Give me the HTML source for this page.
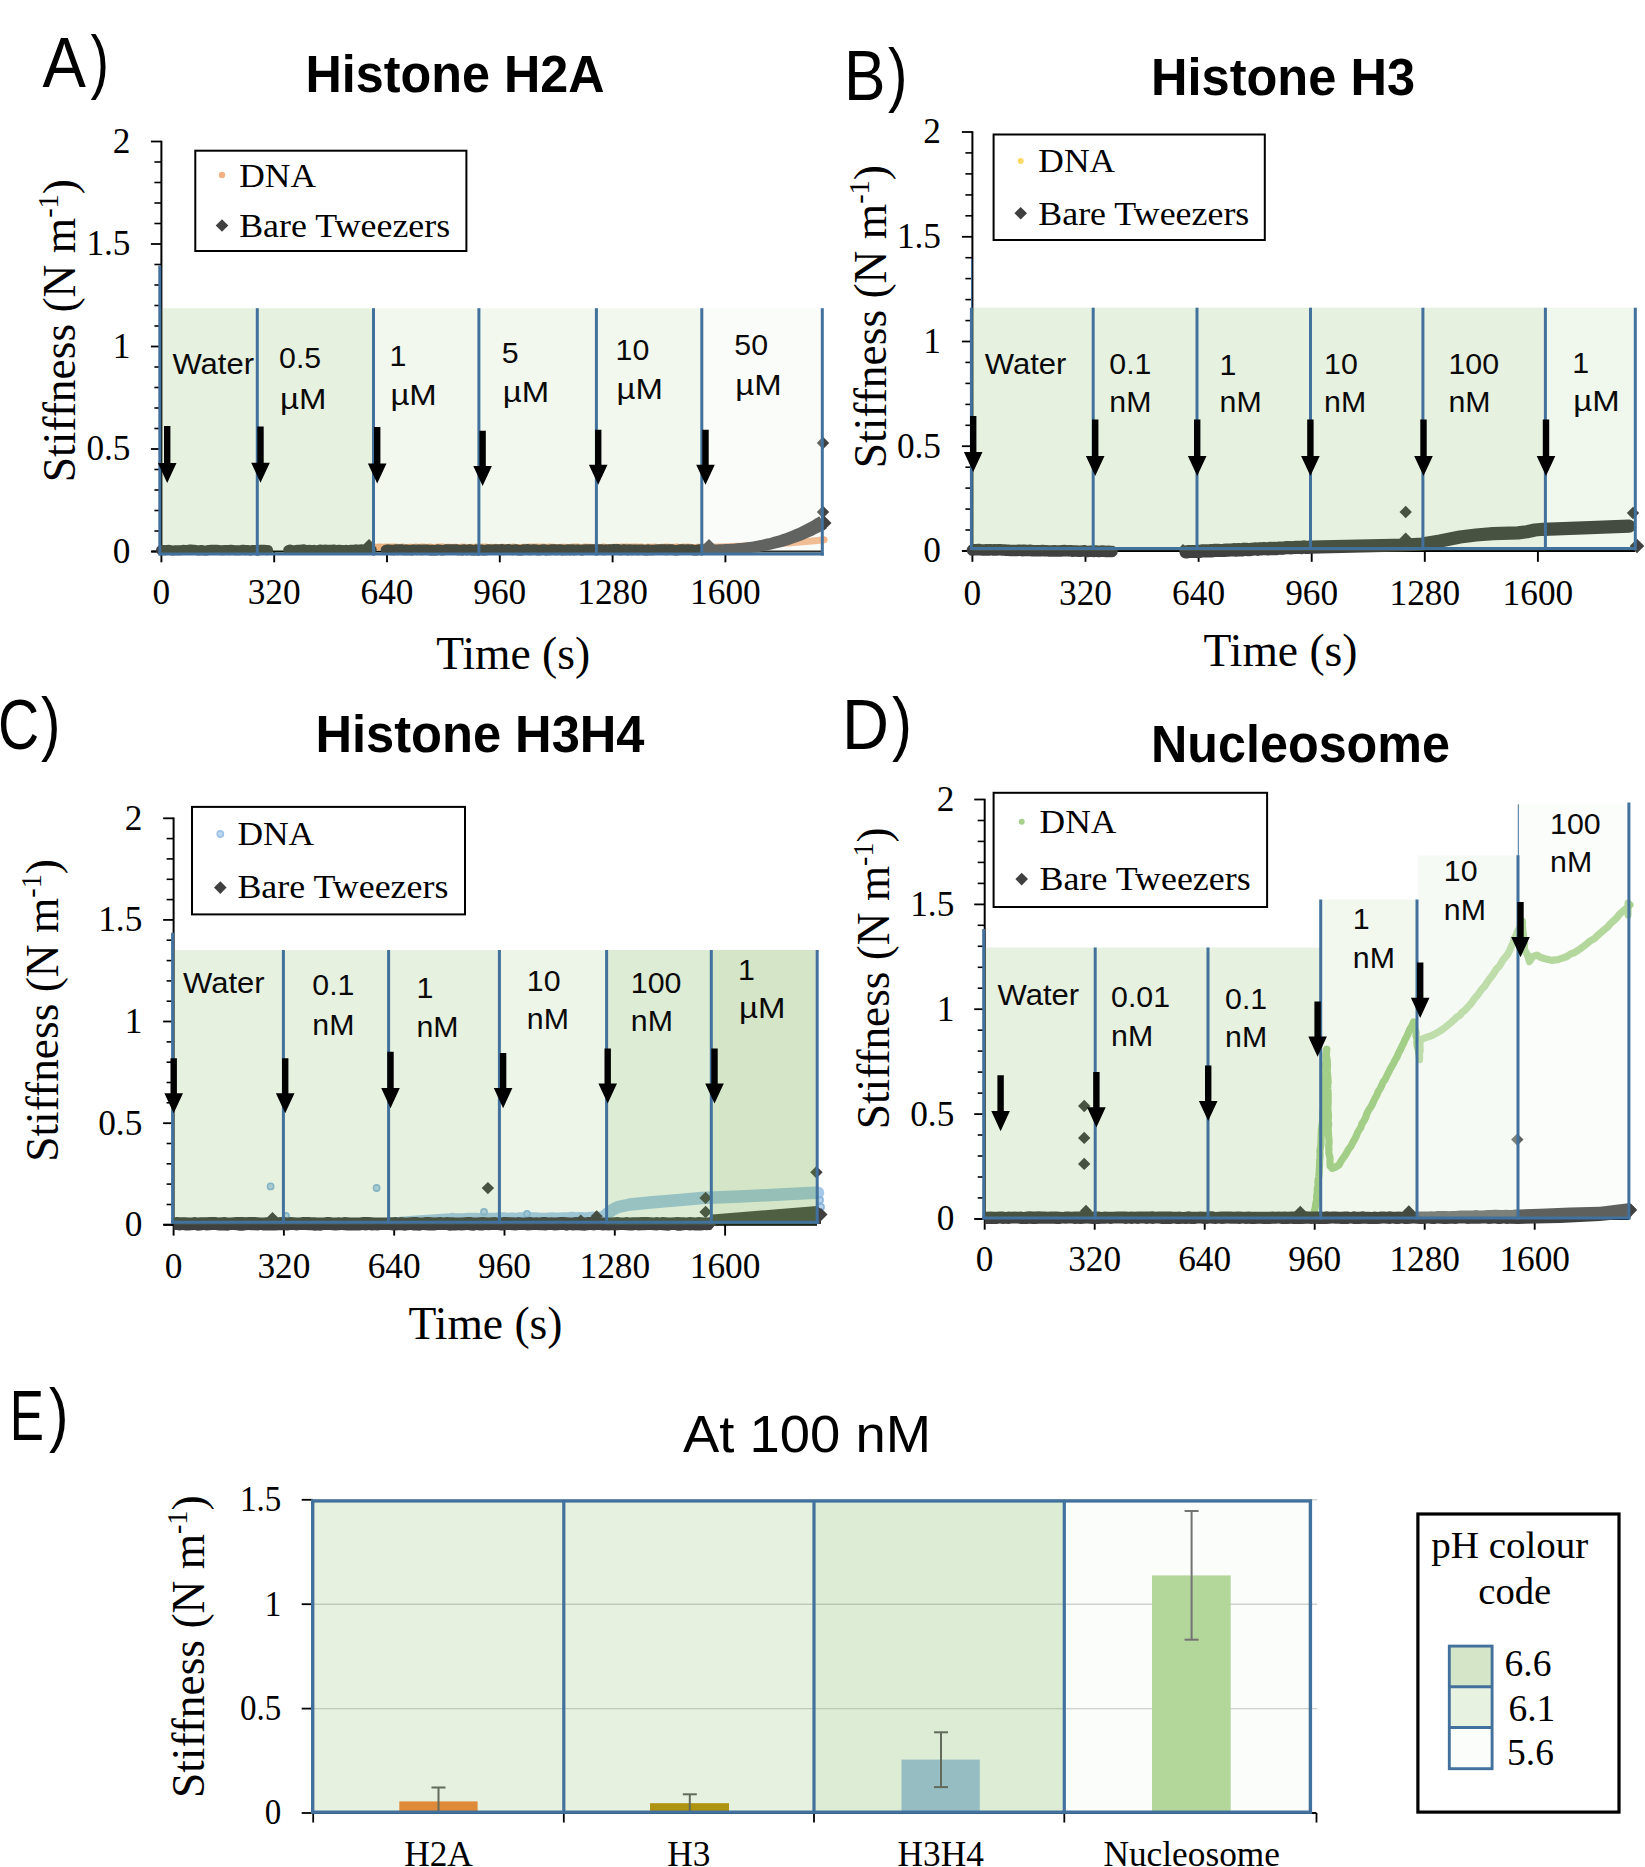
<!DOCTYPE html>
<html lang="en">
<head>
<meta charset="utf-8">
<title>Stiffness of DNA bundles with histones and nucleosomes</title>
<style>
html,body{margin:0;padding:0;background:#fff;}
body{width:1645px;height:1867px;overflow:hidden;}
svg{display:block;}
.se{font-family:'Liberation Serif', 'DejaVu Serif', serif;}
.sa{font-family:'Liberation Sans', 'DejaVu Sans', sans-serif;}
</style>
</head>
<body>
<svg width="1645" height="1867" viewBox="0 0 1645 1867">
<rect width="1645" height="1867" fill="#fff"/>
<text class="sa" y="87" font-size="70"><tspan x="42.6" textLength="43.4" lengthAdjust="spacingAndGlyphs">A</tspan><tspan x="90.5" dy="-2.2" textLength="18.5" lengthAdjust="spacingAndGlyphs">)</tspan></text>
<text class="sa" y="100.1" font-size="70"><tspan x="843.9" textLength="41.5" lengthAdjust="spacingAndGlyphs">B</tspan><tspan x="888.1" dy="-2.2" textLength="19.5" lengthAdjust="spacingAndGlyphs">)</tspan></text>
<text class="sa" y="749.4" font-size="70"><tspan x="-2" textLength="41.2" lengthAdjust="spacingAndGlyphs">C</tspan><tspan x="41.1" dy="-2.2" textLength="19.5" lengthAdjust="spacingAndGlyphs">)</tspan></text>
<text class="sa" y="749" font-size="70"><tspan x="842" textLength="47" lengthAdjust="spacingAndGlyphs">D</tspan><tspan x="891.9" dy="-2.2" textLength="20" lengthAdjust="spacingAndGlyphs">)</tspan></text>
<text class="sa" y="1440.2" font-size="70"><tspan x="9.7" textLength="34.2" lengthAdjust="spacingAndGlyphs">E</tspan><tspan x="49.1" dy="-2.2" textLength="19.5" lengthAdjust="spacingAndGlyphs">)</tspan></text>
<text class="sa" x="305.5" y="92" font-size="52.7" font-weight="bold" textLength="299" lengthAdjust="spacingAndGlyphs">Histone H2A</text>
<text class="sa" x="1151" y="94.5" font-size="52.7" font-weight="bold" textLength="264" lengthAdjust="spacingAndGlyphs">Histone H3</text>
<text class="sa" x="315.5" y="752" font-size="52.7" font-weight="bold" textLength="329" lengthAdjust="spacingAndGlyphs">Histone H3H4</text>
<text class="sa" x="1151" y="762.2" font-size="52.7" font-weight="bold" textLength="299" lengthAdjust="spacingAndGlyphs">Nucleosome</text>
<text class="sa" x="683" y="1451.5" font-size="52" textLength="248" lengthAdjust="spacingAndGlyphs">At 100 nM</text>
<line x1="161.4" y1="140.7" x2="161.4" y2="552.3" stroke="#000" stroke-width="2"/>
<line x1="151.4" y1="551.5" x2="822" y2="551.5" stroke="#000" stroke-width="2"/>
<line x1="150.9" y1="551.5" x2="161.4" y2="551.5" stroke="#000" stroke-width="1.8"/>
<line x1="154.4" y1="531" x2="161.4" y2="531" stroke="#000" stroke-width="1.6"/>
<line x1="154.4" y1="510.5" x2="161.4" y2="510.5" stroke="#000" stroke-width="1.6"/>
<line x1="154.4" y1="490" x2="161.4" y2="490" stroke="#000" stroke-width="1.6"/>
<line x1="154.4" y1="469.5" x2="161.4" y2="469.5" stroke="#000" stroke-width="1.6"/>
<line x1="150.9" y1="449" x2="161.4" y2="449" stroke="#000" stroke-width="1.8"/>
<line x1="154.4" y1="428.5" x2="161.4" y2="428.5" stroke="#000" stroke-width="1.6"/>
<line x1="154.4" y1="408" x2="161.4" y2="408" stroke="#000" stroke-width="1.6"/>
<line x1="154.4" y1="387.5" x2="161.4" y2="387.5" stroke="#000" stroke-width="1.6"/>
<line x1="154.4" y1="367" x2="161.4" y2="367" stroke="#000" stroke-width="1.6"/>
<line x1="150.9" y1="346.5" x2="161.4" y2="346.5" stroke="#000" stroke-width="1.8"/>
<line x1="154.4" y1="326" x2="161.4" y2="326" stroke="#000" stroke-width="1.6"/>
<line x1="154.4" y1="305.5" x2="161.4" y2="305.5" stroke="#000" stroke-width="1.6"/>
<line x1="154.4" y1="285" x2="161.4" y2="285" stroke="#000" stroke-width="1.6"/>
<line x1="154.4" y1="264.5" x2="161.4" y2="264.5" stroke="#000" stroke-width="1.6"/>
<line x1="150.9" y1="244" x2="161.4" y2="244" stroke="#000" stroke-width="1.8"/>
<line x1="154.4" y1="223.5" x2="161.4" y2="223.5" stroke="#000" stroke-width="1.6"/>
<line x1="154.4" y1="203" x2="161.4" y2="203" stroke="#000" stroke-width="1.6"/>
<line x1="154.4" y1="182.5" x2="161.4" y2="182.5" stroke="#000" stroke-width="1.6"/>
<line x1="154.4" y1="162" x2="161.4" y2="162" stroke="#000" stroke-width="1.6"/>
<line x1="150.9" y1="141.5" x2="161.4" y2="141.5" stroke="#000" stroke-width="1.8"/>
<text class="se" x="130.5" y="562.9" font-size="35.3" text-anchor="end">0</text>
<text class="se" x="130.5" y="460.4" font-size="35.3" text-anchor="end">0.5</text>
<text class="se" x="130.5" y="357.9" font-size="35.3" text-anchor="end">1</text>
<text class="se" x="130.5" y="255.4" font-size="35.3" text-anchor="end">1.5</text>
<text class="se" x="130.5" y="152.9" font-size="35.3" text-anchor="end">2</text>
<line x1="161.4" y1="551.5" x2="161.4" y2="562.3" stroke="#000" stroke-width="1.9"/>
<text class="se" x="161.4" y="604.4" font-size="35.3" text-anchor="middle">0</text>
<line x1="274.2" y1="551.5" x2="274.2" y2="562.3" stroke="#000" stroke-width="1.9"/>
<text class="se" x="274.2" y="604.4" font-size="35.3" text-anchor="middle">320</text>
<line x1="387" y1="551.5" x2="387" y2="562.3" stroke="#000" stroke-width="1.9"/>
<text class="se" x="387" y="604.4" font-size="35.3" text-anchor="middle">640</text>
<line x1="499.8" y1="551.5" x2="499.8" y2="562.3" stroke="#000" stroke-width="1.9"/>
<text class="se" x="499.8" y="604.4" font-size="35.3" text-anchor="middle">960</text>
<line x1="612.6" y1="551.5" x2="612.6" y2="562.3" stroke="#000" stroke-width="1.9"/>
<text class="se" x="612.6" y="604.4" font-size="35.3" text-anchor="middle">1280</text>
<line x1="725.4" y1="551.5" x2="725.4" y2="562.3" stroke="#000" stroke-width="1.9"/>
<text class="se" x="725.4" y="604.4" font-size="35.3" text-anchor="middle">1600</text>
<text class="se" transform="translate(74.7 482.2) rotate(-90)" font-size="46.6" textLength="303" lengthAdjust="spacingAndGlyphs">Stiffness (N m<tspan font-size="28.9" dy="-16.8">-1</tspan><tspan dy="16.8">)</tspan></text>
<text class="se" x="436.2" y="668.6" font-size="46.3" textLength="154" lengthAdjust="spacingAndGlyphs">Time (s)</text>
<polyline points="373.5,547.2 375.5,547.1 377.5,547.4 379.5,547 381.5,547.3 383.5,547.2 385.5,547 387.5,547.3 389.5,547 391.5,547.3 393.5,547 395.5,547.1 397.5,547.3 399.5,547.5 401.5,547.1 403.5,547.1 405.5,547.4 407.5,547.6 409.5,547.3 411.5,547.2 413.5,547.6 415.5,547 417.5,547.5 419.5,547.2 421.5,547.1 423.5,547.1 425.5,547.2 427.5,547.5 429.5,547.1 431.5,547.3 433.5,547.4 435.5,547.2 437.5,547.3 439.5,547 441.5,547 443.5,547.1 445.5,547.4 447.5,547.3 449.5,547.2 451.5,547.4 453.5,547.3 455.5,547.2 457.5,547.5 459.5,547.4 461.5,547.1 463.5,547.3 465.5,547.3 467.5,547.5 469.5,547.4 471.5,547.2 473.5,547.6 475.5,547.1 477.5,547.3 479.5,547.5 481.5,547.1 483.5,547.3 485.5,547 487.5,547.4 489.5,547.5 491.5,547.3 493.5,547.5 495.5,547.2 497.5,547.4 499.5,547.4 501.5,547.3 503.5,547.3 505.5,547.5 507.5,547.6 509.5,547.3 511.5,547.4 513.5,547 515.5,547.4 517.5,547.4 519.5,547.6 521.5,547.5 523.5,547.2 525.5,547.2 527.5,547.4 529.5,547 531.5,547.3 533.5,547.1 535.5,547.1 537.5,547 539.5,547.5 541.5,547.1 543.5,547.1 545.5,547.2 547.5,547.5 549.5,547 551.5,547.3 553.5,547.3 555.5,547.5 557.5,547.5 559.5,547.5 561.5,547.2 563.5,547.2 565.5,547.2 567.5,547.5 569.5,547.6 571.5,547.1 573.5,547.1 575.5,547.1 577.5,547.1 579.5,547.3 581.5,547.4 583.5,547.2 585.5,547 587.5,547.3 589.5,547.2 591.5,547.3 593.5,547.6 595.5,547.4 597.5,547.3 599.5,547.4 601.5,547.4 603.5,547 605.5,547.5 607.5,547.5 609.5,547.5 611.5,547.5 613.5,547.2 615.5,547.2 617.5,547.1 619.5,547.4 621.5,547 623.5,547 625.5,547.1 627.5,547.1 629.5,547.2 631.5,547 633.5,547 635.5,547.1 637.5,547.1 639.5,547.2 641.5,547 643.5,547.5 645.5,547.4 647.5,547.1 649.5,547.2 651.5,547.2 653.5,547.2 655.5,547.1 657.5,547.5 659.5,547.6 661.5,547.3 663.5,547.3 665.5,547.1 667.5,547.1 669.5,547.2 671.5,547.2 673.5,547.5 675.5,547.1 677.5,547 679.5,547.6 681.5,547.3 683.5,547.1 685.5,547.3 687.5,547 689.5,547.3 691.5,547.6 693.5,547.5 695.5,547.4 697.5,547.2 699.5,547.2 701.5,547.1 702,547.3 702,547.3 705,547.3 708.1,547.2 711.1,547.2 714.2,547.1 717.2,547 720.3,546.9 723.4,546.8 726.4,546.7 729.5,546.6 732.5,546.5 735.5,546.3 738.6,546.2 741.6,546.1 744.7,545.9 747.8,545.7 750.8,545.6 753.9,545.4 756.9,545.2 760,545 763,544.8 766,544.6 769.1,544.4 772.1,544.2 775.2,544 778.2,543.8 781.3,543.5 784.4,543.3 787.4,543.1 790.5,542.8 793.5,542.6 796.5,542.3 799.6,542.1 802.6,541.8 805.7,541.5 808.8,541.2 811.8,541 814.9,540.7 817.9,540.4 821,540.1 824,539.8" fill="none" stroke="#f4b183" stroke-width="7" stroke-linejoin="round" stroke-linecap="round"/>
<polyline points="161,550.2 163,550 165,550.2 167,549.9 169,549.8 171,550.2 173,550.4 175,550.3 177,550.2 179,550.3 181,550.2 183,549.8 185,550 187,549.9 189,549.6 191,549.6 193,549.8 195,549.8 197,550.2 199,550.4 201,550 203,550.3 205,550.4 207,550.4 209,549.9 211,549.8 213,549.8 215,549.8 217,549.8 219,550.1 221,550.3 223,550.3 225,550 227,550.1 229,550.2 231,549.7 233,550.1 235,550.3 237,550.2 239,550.2 241,550 243,549.7 245,550.2 247,549.9 249,550.2 251,550.4 253,549.9 255,549.9 257,550.4 259,550.2 261,549.7 263,549.7 265,549.7 267,550.3 268,550" fill="none" stroke="#404040" stroke-width="10" stroke-linejoin="round" stroke-linecap="round"/>
<polyline points="288,549.9 290,549.2 292,549.9 294,550.1 296,549.8 298,549.5 300,549.6 302,549.2 304,549.1 306,550.1 308,549.7 310,549.6 312,550 314,549.5 316,550 318,549.9 320,549.3 322,549.4 324,549.4 326,549.3 328,549.7 330,549.4 332,549.5 334,549.2 336,550 338,549.5 340,549.6 342,549.7 344,550 346,549.5 348,550 350,549.6 352,549.6 354,549.6 356,549.1 358,549.5 360,549.3 362,549.1 364,549.9 366,549.3 368,549.6 370,549.8 372,549.6" fill="none" stroke="#404040" stroke-width="9.5" stroke-linejoin="round" stroke-linecap="round"/>
<polyline points="386,549.9 388,549.6 390,549.8 392,549.9 394,550.1 396,549.4 398,549.9 400,549.5 402,549.6 404,550.1 406,549.8 408,549.9 410,550.1 412,550.2 414,549.7 416,549.9 418,549.8 420,549.8 422,550 424,549.8 426,549.8 428,549.8 430,550.2 432,550 434,550.2 436,550.2 438,549.6 440,549.9 442,550.2 444,550.1 446,549.4 448,549.4 450,549.7 452,549.4 454,549.5 456,549.4 458,550 460,550.1 462,550.2 464,549.5 466,550 468,550 470,549.4 472,550.2 474,550.3 476,549.5 478,550.3 480,549.7 482,549.8 484,550.3 486,550.1 488,549.5 490,549.7 492,549.8 494,549.6 496,549.5 498,549.6 500,550 502,549.3 504,549.9 506,549.7 508,549.3 510,549.6 512,549.9 514,549.8 516,549.4 518,550.3 520,550.1 522,550.3 524,549.4 526,549.6 528,549.3 530,550.1 532,549.6 534,549.4 536,549.7 538,550.2 540,550.1 542,549.6 544,549.4 546,550.2 548,549.9 550,550 552,549.4 554,549.4 556,550 558,549.7 560,549.4 562,550.2 564,549.9 566,550.1 568,549.4 570,550.2 572,549.4 574,550.2 576,549.8 578,549.6 580,549.9 582,550.2 584,549.6 586,549.4 588,549.8 590,549.5 592,549.4 594,549.5 596,549.4 598,549.5 600,549.6 602,549.6 604,550.1 606,549.6 608,549.8 610,549.5 612,549.6 614,549.3 616,549.6 618,549.3 620,550 622,549.9 624,549.5 626,549.8 628,550.2 630,549.4 632,550.1 634,549.7 636,549.8 638,550.1 640,549.7 642,549.8 644,550 646,550.3 648,549.6 650,550.1 652,550 654,549.9 656,549.7 658,549.6 660,549.4 662,549.4 664,549.4 666,550 668,549.6 670,549.5 672,549.4 674,550.1 676,550.2 678,550 680,549.6 682,549.5 684,549.6 686,549.8 688,549.5 690,549.7 692,549.6 694,550.3 696,550.3 698,549.8 700,549.5 702,549.8" fill="none" stroke="#404040" stroke-width="10.5" stroke-linejoin="round" stroke-linecap="round"/>
<polygon points="701,544.5 703,544.5 705.1,544.5 707.1,544.5 709.1,544.5 711.1,544.5 713.1,544.5 715.2,544.4 717.2,544.4 719.2,544.3 721.2,544.3 723.2,544.2 725.2,544.1 727.2,544 729.2,543.9 731.2,543.8 733.2,543.7 735.2,543.5 737.2,543.3 739.2,543.1 741.2,542.9 743.1,542.7 745.1,542.5 747.1,542.2 749.1,542 751.1,541.7 753.1,541.4 755,541 757,540.7 759,540.3 760.9,539.9 762.9,539.5 764.9,539.1 766.8,538.6 768.8,538.2 770.8,537.7 772.7,537.1 774.7,536.6 776.6,536 778.6,535.4 780.6,534.8 782.5,534.1 784.5,533.4 786.4,532.7 788.3,532 790.3,531.2 792.2,530.4 794.2,529.6 796.1,528.8 798.1,527.9 800,527 801.9,526.1 803.9,525.1 805.8,524.1 807.7,523.1 809.7,522 811.6,520.9 813.5,519.8 815.4,518.6 817.4,517.4 819.3,516.2 826.7,528.4 824.6,529.6 822.4,530.8 820.3,531.9 818.2,533 816,534.1 813.9,535.2 811.7,536.2 809.6,537.1 807.5,538.1 805.3,539 803.2,539.9 801.1,540.7 799,541.5 796.8,542.3 794.7,543.1 792.6,543.8 790.5,544.5 788.3,545.2 786.2,545.8 784.1,546.4 782,547 779.9,547.6 777.8,548.1 775.7,548.6 773.6,549.1 771.5,549.6 769.4,550 767.3,550.4 765.2,550.8 763.1,551.2 761,551.5 758.9,551.9 756.8,552.2 754.7,552.5 752.6,552.7 750.5,553 748.4,553.2 746.3,553.4 744.3,553.6 742.2,553.8 740.1,554 738,554.1 736,554.3 733.9,554.4 731.8,554.5 729.7,554.6 727.7,554.7 725.6,554.8 723.5,554.8 721.5,554.9 719.4,554.9 717.4,555 715.3,555 713.3,555 711.2,555 709.2,555 707.1,555 705.1,555 703,555.1 701,555" fill="#404040"/>
<polygon points="363,545 369,539 375,545 369,551" fill="#404040"/>
<polygon points="703,545 709,539 715,545 709,551" fill="#404040"/>
<polygon points="816.8,443 823,436.8 829.2,443 823,449.2" fill="#404040"/>
<polygon points="816.8,512 823,505.8 829.2,512 823,518.2" fill="#404040"/>
<polygon points="816.5,523 824,515.5 831.5,523 824,530.5" fill="#404040"/>
<rect x="161.4" y="308.2" width="212.1" height="245.3" fill="#70ad47" fill-opacity="0.17"/>
<rect x="373.5" y="308.2" width="328.3" height="245.3" fill="#70ad47" fill-opacity="0.09"/>
<rect x="701.8" y="308.2" width="120.5" height="245.3" fill="#e6f1e0" fill-opacity="0.2"/>
<text class="sa" x="172.4" y="373.5" font-size="29" textLength="81.6" lengthAdjust="spacingAndGlyphs" fill="#0a0a0a">Water</text>
<text class="sa" x="279.1" y="368.4" font-size="29" textLength="42.1" lengthAdjust="spacingAndGlyphs" fill="#0a0a0a">0.5</text>
<text class="sa" x="280.1" y="408.5" font-size="29" textLength="46.4" lengthAdjust="spacingAndGlyphs" fill="#0a0a0a">µM</text>
<text class="sa" x="389.4" y="365.9" font-size="29" textLength="16.9" lengthAdjust="spacingAndGlyphs" fill="#0a0a0a">1</text>
<text class="sa" x="390.4" y="404.7" font-size="29" textLength="46.4" lengthAdjust="spacingAndGlyphs" fill="#0a0a0a">µM</text>
<text class="sa" x="501.8" y="362.5" font-size="29" textLength="16.9" lengthAdjust="spacingAndGlyphs" fill="#0a0a0a">5</text>
<text class="sa" x="502.8" y="402" font-size="29" textLength="46.4" lengthAdjust="spacingAndGlyphs" fill="#0a0a0a">µM</text>
<text class="sa" x="615.6" y="360" font-size="29" textLength="33.7" lengthAdjust="spacingAndGlyphs" fill="#0a0a0a">10</text>
<text class="sa" x="616.6" y="399" font-size="29" textLength="46.4" lengthAdjust="spacingAndGlyphs" fill="#0a0a0a">µM</text>
<text class="sa" x="734.3" y="355" font-size="29" textLength="33.7" lengthAdjust="spacingAndGlyphs" fill="#0a0a0a">50</text>
<text class="sa" x="735.3" y="394.5" font-size="29" textLength="46.4" lengthAdjust="spacingAndGlyphs" fill="#0a0a0a">µM</text>
<line x1="159.8" y1="265.5" x2="159.8" y2="555.6" stroke="#41719c" stroke-width="3"/>
<line x1="257.3" y1="308.2" x2="257.3" y2="555.6" stroke="#41719c" stroke-width="3"/>
<line x1="373.5" y1="308.2" x2="373.5" y2="555.6" stroke="#41719c" stroke-width="3"/>
<line x1="478.9" y1="308.2" x2="478.9" y2="555.6" stroke="#41719c" stroke-width="3"/>
<line x1="596.4" y1="308.2" x2="596.4" y2="555.6" stroke="#41719c" stroke-width="3"/>
<line x1="701.8" y1="308.2" x2="701.8" y2="555.6" stroke="#41719c" stroke-width="3"/>
<line x1="822.3" y1="308.2" x2="822.3" y2="555.6" stroke="#41719c" stroke-width="3"/>
<line x1="158.9" y1="554.1" x2="823.8" y2="554.1" stroke="#41719c" stroke-width="3"/>
<polygon points="164,426 170.4,426 170.4,462.9 176.5,462.9 167.2,483 157.9,462.9 164,462.9" fill="#000"/>
<polygon points="257.3,426.4 263.7,426.4 263.7,462.7 269.8,462.7 260.5,482.8 251.2,462.7 257.3,462.7" fill="#000"/>
<polygon points="374,426.9 380.4,426.9 380.4,463.4 386.5,463.4 377.2,483.5 367.9,463.4 374,463.4" fill="#000"/>
<polygon points="479.4,430.7 485.8,430.7 485.8,465.9 491.9,465.9 482.6,486 473.3,465.9 479.4,465.9" fill="#000"/>
<polygon points="595,429.7 601.4,429.7 601.4,464.7 607.5,464.7 598.2,484.8 588.9,464.7 595,464.7" fill="#000"/>
<polygon points="702.3,429.7 708.7,429.7 708.7,464.7 714.8,464.7 705.5,484.8 696.2,464.7 702.3,464.7" fill="#000"/>
<rect x="195.3" y="150.7" width="271.1" height="100.3" fill="#fff" stroke="#000" stroke-width="2"/>
<text class="se" x="239.2" y="186.5" font-size="34.5" textLength="76.8" lengthAdjust="spacingAndGlyphs">DNA</text>
<text class="se" x="239.2" y="237" font-size="34.5" textLength="211" lengthAdjust="spacingAndGlyphs">Bare Tweezers</text>
<circle cx="222" cy="175" r="3.2" fill="#f4b183"/>
<polygon points="215.7,225.5 222,219.2 228.3,225.5 222,231.8" fill="#404040"/>
<line x1="972.4" y1="131.2" x2="972.4" y2="551.8" stroke="#000" stroke-width="2"/>
<line x1="962.4" y1="551" x2="1635" y2="551" stroke="#000" stroke-width="2"/>
<line x1="961.9" y1="551" x2="972.4" y2="551" stroke="#000" stroke-width="1.8"/>
<line x1="965.4" y1="530" x2="972.4" y2="530" stroke="#000" stroke-width="1.6"/>
<line x1="965.4" y1="509.1" x2="972.4" y2="509.1" stroke="#000" stroke-width="1.6"/>
<line x1="965.4" y1="488.1" x2="972.4" y2="488.1" stroke="#000" stroke-width="1.6"/>
<line x1="965.4" y1="467.2" x2="972.4" y2="467.2" stroke="#000" stroke-width="1.6"/>
<line x1="961.9" y1="446.2" x2="972.4" y2="446.2" stroke="#000" stroke-width="1.8"/>
<line x1="965.4" y1="425.3" x2="972.4" y2="425.3" stroke="#000" stroke-width="1.6"/>
<line x1="965.4" y1="404.4" x2="972.4" y2="404.4" stroke="#000" stroke-width="1.6"/>
<line x1="965.4" y1="383.4" x2="972.4" y2="383.4" stroke="#000" stroke-width="1.6"/>
<line x1="965.4" y1="362.4" x2="972.4" y2="362.4" stroke="#000" stroke-width="1.6"/>
<line x1="961.9" y1="341.5" x2="972.4" y2="341.5" stroke="#000" stroke-width="1.8"/>
<line x1="965.4" y1="320.6" x2="972.4" y2="320.6" stroke="#000" stroke-width="1.6"/>
<line x1="965.4" y1="299.6" x2="972.4" y2="299.6" stroke="#000" stroke-width="1.6"/>
<line x1="965.4" y1="278.6" x2="972.4" y2="278.6" stroke="#000" stroke-width="1.6"/>
<line x1="965.4" y1="257.7" x2="972.4" y2="257.7" stroke="#000" stroke-width="1.6"/>
<line x1="961.9" y1="236.8" x2="972.4" y2="236.8" stroke="#000" stroke-width="1.8"/>
<line x1="965.4" y1="215.8" x2="972.4" y2="215.8" stroke="#000" stroke-width="1.6"/>
<line x1="965.4" y1="194.9" x2="972.4" y2="194.9" stroke="#000" stroke-width="1.6"/>
<line x1="965.4" y1="173.9" x2="972.4" y2="173.9" stroke="#000" stroke-width="1.6"/>
<line x1="965.4" y1="152.9" x2="972.4" y2="152.9" stroke="#000" stroke-width="1.6"/>
<line x1="961.9" y1="132" x2="972.4" y2="132" stroke="#000" stroke-width="1.8"/>
<text class="se" x="941" y="562.4" font-size="35.3" text-anchor="end">0</text>
<text class="se" x="941" y="457.6" font-size="35.3" text-anchor="end">0.5</text>
<text class="se" x="941" y="352.9" font-size="35.3" text-anchor="end">1</text>
<text class="se" x="941" y="248.2" font-size="35.3" text-anchor="end">1.5</text>
<text class="se" x="941" y="143.4" font-size="35.3" text-anchor="end">2</text>
<line x1="972.4" y1="551" x2="972.4" y2="561.8" stroke="#000" stroke-width="1.9"/>
<text class="se" x="972.4" y="604.9" font-size="35.3" text-anchor="middle">0</text>
<line x1="1085.5" y1="551" x2="1085.5" y2="561.8" stroke="#000" stroke-width="1.9"/>
<text class="se" x="1085.5" y="604.9" font-size="35.3" text-anchor="middle">320</text>
<line x1="1198.6" y1="551" x2="1198.6" y2="561.8" stroke="#000" stroke-width="1.9"/>
<text class="se" x="1198.6" y="604.9" font-size="35.3" text-anchor="middle">640</text>
<line x1="1311.7" y1="551" x2="1311.7" y2="561.8" stroke="#000" stroke-width="1.9"/>
<text class="se" x="1311.7" y="604.9" font-size="35.3" text-anchor="middle">960</text>
<line x1="1424.8" y1="551" x2="1424.8" y2="561.8" stroke="#000" stroke-width="1.9"/>
<text class="se" x="1424.8" y="604.9" font-size="35.3" text-anchor="middle">1280</text>
<line x1="1537.9" y1="551" x2="1537.9" y2="561.8" stroke="#000" stroke-width="1.9"/>
<text class="se" x="1537.9" y="604.9" font-size="35.3" text-anchor="middle">1600</text>
<text class="se" transform="translate(886.2 468.2) rotate(-90)" font-size="46.6" textLength="303" lengthAdjust="spacingAndGlyphs">Stiffness (N m<tspan font-size="28.9" dy="-16.8">-1</tspan><tspan dy="16.8">)</tspan></text>
<text class="se" x="1203.5" y="666.2" font-size="46.3" textLength="154" lengthAdjust="spacingAndGlyphs">Time (s)</text>
<polyline points="972.4,550.1 974.4,549.7 976.4,549.7 978.4,549.5 980.4,549.8 982.4,549.9 984.4,549.9 986.4,549.8 988.4,550 990.4,549.7 992.4,549.9 994.4,549.8 996.4,550 998.4,549.8 1000.4,549.8 1002.4,550 1004.4,550 1006.4,550.3 1008.4,550.3 1010.4,550.4 1012.4,550.4 1014.4,550.5 1016.4,550.6 1018.4,550.3 1020.4,550.3 1022.4,550.7 1024.4,550.2 1026.4,550.6 1028.4,550.6 1030.4,550.2 1032.4,550.8 1034.4,550.8 1036.4,550.7 1038.4,550.8 1040.4,550.8 1042.4,550.4 1044.4,550.7 1046.4,550.7 1048.4,550.9 1050.4,550.9 1052.4,551 1054.4,550.8 1056.4,551.1 1058.4,551 1060.4,551 1062.4,550.7 1064.4,550.6 1066.4,550.7 1068.4,550.9 1070.4,550.7 1072.4,551.2 1074.4,551.1 1076.4,551.1 1078.4,551.2 1080.4,551.2 1082.4,551.1 1084.4,550.8 1086.4,551.4 1088.4,551.4 1090.4,551.2 1092.4,551.3 1094.4,551.4 1096.4,551 1098.4,551.5 1100.4,551.2 1102.4,551.1 1104.4,551.2 1106.4,551.6 1108.4,551.2 1110.4,551.6 1112,551.5" fill="none" stroke="#404040" stroke-width="11.5" stroke-linejoin="round" stroke-linecap="round"/>
<polyline points="1186,552 1188,551.6 1190,551.5 1192,551.5 1194,551.5 1196,551.5 1198,551.3 1200,551.3 1202,550.8 1204,550.8 1206,550.8 1208,551 1210,550.7 1212,550.8 1214,550.3 1216,550.3 1218,550.3 1220,550.5 1222,550.5 1224,550.4 1226,550.1 1228,550.1 1230,550 1232,550 1234,549.6 1236,550.1 1238,549.5 1240,550 1242,549.9 1244,549.2 1246,549.4 1248,549.6 1250,549.6 1252,549.2 1254,549 1256,548.9 1258,549.3 1260,548.7 1262,548.9 1264,548.5 1266,548.7 1268,548.9 1270,548.3 1272,548.7 1274,548.4 1276,548.6 1278,548.4 1280,548 1282,548.4 1284,548 1286,547.6 1288,547.5 1290,547.8 1292,547.7 1294,547.5 1296,547.3 1298,547.4 1300,547.3 1302,547.6 1304,546.9 1306,547.4 1308,547.4 1310,547.1 1405,545 1422,544 1440,541 1460,537 1476,535 1493,533.7 1518,532.9 1527,531.7 1535,530 1543,529.3 1590,527.6 1629,526.2" fill="none" stroke="#404040" stroke-width="13.2" stroke-linejoin="round" stroke-linecap="round"/>
<polygon points="1399.5,512 1405.7,505.8 1411.9,512 1405.7,518.2" fill="#404040"/>
<polygon points="1399.5,538.7 1405.7,532.5 1411.9,538.7 1405.7,544.9" fill="#404040"/>
<polygon points="1626.8,513 1633,506.8 1639.2,513 1633,519.2" fill="#404040"/>
<polygon points="1629.7,546 1637,538.7 1644.3,546 1637,553.3" fill="#404040"/>
<polygon points="1178,549 1183,544 1188,549 1183,554" fill="#404040"/>
<rect x="972.4" y="307.7" width="573" height="243.3" fill="#70ad47" fill-opacity="0.17"/>
<rect x="1545.4" y="307.7" width="89.9" height="243.3" fill="#70ad47" fill-opacity="0.1"/>
<text class="sa" x="984.8" y="374" font-size="29" textLength="81.6" lengthAdjust="spacingAndGlyphs" fill="#0a0a0a">Water</text>
<text class="sa" x="1109.3" y="374" font-size="29" textLength="42.1" lengthAdjust="spacingAndGlyphs" fill="#0a0a0a">0.1</text>
<text class="sa" x="1109.3" y="412.3" font-size="29" textLength="42.1" lengthAdjust="spacingAndGlyphs" fill="#0a0a0a">nM</text>
<text class="sa" x="1219.6" y="375.3" font-size="29" textLength="16.9" lengthAdjust="spacingAndGlyphs" fill="#0a0a0a">1</text>
<text class="sa" x="1219.6" y="412.3" font-size="29" textLength="42.1" lengthAdjust="spacingAndGlyphs" fill="#0a0a0a">nM</text>
<text class="sa" x="1324.1" y="374" font-size="29" textLength="33.7" lengthAdjust="spacingAndGlyphs" fill="#0a0a0a">10</text>
<text class="sa" x="1324.1" y="412.3" font-size="29" textLength="42.1" lengthAdjust="spacingAndGlyphs" fill="#0a0a0a">nM</text>
<text class="sa" x="1448.5" y="373.5" font-size="29" textLength="50.6" lengthAdjust="spacingAndGlyphs" fill="#0a0a0a">100</text>
<text class="sa" x="1448.5" y="412" font-size="29" textLength="42.1" lengthAdjust="spacingAndGlyphs" fill="#0a0a0a">nM</text>
<text class="sa" x="1572.3" y="373" font-size="29" textLength="16.9" lengthAdjust="spacingAndGlyphs" fill="#0a0a0a">1</text>
<text class="sa" x="1573.3" y="411" font-size="29" textLength="46.4" lengthAdjust="spacingAndGlyphs" fill="#0a0a0a">µM</text>
<line x1="971.6" y1="259" x2="971.6" y2="308" stroke="#41719c" stroke-width="1.2"/>
<line x1="971.4" y1="307.7" x2="971.4" y2="550" stroke="#41719c" stroke-width="3"/>
<line x1="1093.2" y1="307.7" x2="1093.2" y2="550" stroke="#41719c" stroke-width="3"/>
<line x1="1197" y1="307.7" x2="1197" y2="550" stroke="#41719c" stroke-width="3"/>
<line x1="1310.5" y1="307.7" x2="1310.5" y2="550" stroke="#41719c" stroke-width="3"/>
<line x1="1422.9" y1="307.7" x2="1422.9" y2="550" stroke="#41719c" stroke-width="3"/>
<line x1="1545.4" y1="307.7" x2="1545.4" y2="550" stroke="#41719c" stroke-width="3"/>
<line x1="1635.3" y1="307.7" x2="1635.3" y2="550" stroke="#41719c" stroke-width="3"/>
<line x1="969.9" y1="548.5" x2="1636.8" y2="548.5" stroke="#41719c" stroke-width="3"/>
<polygon points="970,416 976.4,416 976.4,451.9 982.5,451.9 973.2,472 963.9,451.9 970,451.9" fill="#000"/>
<polygon points="1092,419.5 1098.4,419.5 1098.4,455.9 1104.5,455.9 1095.2,476 1085.9,455.9 1092,455.9" fill="#000"/>
<polygon points="1194,419.5 1200.4,419.5 1200.4,455.9 1206.5,455.9 1197.2,476 1187.9,455.9 1194,455.9" fill="#000"/>
<polygon points="1307.2,419.5 1313.6,419.5 1313.6,455.9 1319.7,455.9 1310.4,476 1301.1,455.9 1307.2,455.9" fill="#000"/>
<polygon points="1420.3,419.5 1426.7,419.5 1426.7,455.9 1432.8,455.9 1423.5,476 1414.2,455.9 1420.3,455.9" fill="#000"/>
<polygon points="1542.8,419.5 1549.2,419.5 1549.2,455.9 1555.3,455.9 1546,476 1536.7,455.9 1542.8,455.9" fill="#000"/>
<rect x="993.6" y="134.5" width="271.2" height="105.5" fill="#fff" stroke="#000" stroke-width="2"/>
<text class="se" x="1038.3" y="172.3" font-size="34.5" textLength="76.8" lengthAdjust="spacingAndGlyphs">DNA</text>
<text class="se" x="1038.3" y="224.7" font-size="34.5" textLength="211" lengthAdjust="spacingAndGlyphs">Bare Tweezers</text>
<circle cx="1020.7" cy="161" r="3" fill="#ffd966"/>
<polygon points="1014.4,213.2 1020.7,206.9 1027,213.2 1020.7,219.5" fill="#404040"/>
<line x1="173.6" y1="817.5" x2="173.6" y2="1225.6" stroke="#000" stroke-width="2"/>
<line x1="163.6" y1="1224.8" x2="817" y2="1224.8" stroke="#000" stroke-width="2"/>
<line x1="163.1" y1="1224.8" x2="173.6" y2="1224.8" stroke="#000" stroke-width="1.8"/>
<line x1="166.6" y1="1204.5" x2="173.6" y2="1204.5" stroke="#000" stroke-width="1.6"/>
<line x1="166.6" y1="1184.1" x2="173.6" y2="1184.1" stroke="#000" stroke-width="1.6"/>
<line x1="166.6" y1="1163.8" x2="173.6" y2="1163.8" stroke="#000" stroke-width="1.6"/>
<line x1="166.6" y1="1143.5" x2="173.6" y2="1143.5" stroke="#000" stroke-width="1.6"/>
<line x1="163.1" y1="1123.2" x2="173.6" y2="1123.2" stroke="#000" stroke-width="1.8"/>
<line x1="166.6" y1="1102.8" x2="173.6" y2="1102.8" stroke="#000" stroke-width="1.6"/>
<line x1="166.6" y1="1082.5" x2="173.6" y2="1082.5" stroke="#000" stroke-width="1.6"/>
<line x1="166.6" y1="1062.2" x2="173.6" y2="1062.2" stroke="#000" stroke-width="1.6"/>
<line x1="166.6" y1="1041.9" x2="173.6" y2="1041.9" stroke="#000" stroke-width="1.6"/>
<line x1="163.1" y1="1021.5" x2="173.6" y2="1021.5" stroke="#000" stroke-width="1.8"/>
<line x1="166.6" y1="1001.2" x2="173.6" y2="1001.2" stroke="#000" stroke-width="1.6"/>
<line x1="166.6" y1="980.9" x2="173.6" y2="980.9" stroke="#000" stroke-width="1.6"/>
<line x1="166.6" y1="960.6" x2="173.6" y2="960.6" stroke="#000" stroke-width="1.6"/>
<line x1="166.6" y1="940.2" x2="173.6" y2="940.2" stroke="#000" stroke-width="1.6"/>
<line x1="163.1" y1="919.9" x2="173.6" y2="919.9" stroke="#000" stroke-width="1.8"/>
<line x1="166.6" y1="899.6" x2="173.6" y2="899.6" stroke="#000" stroke-width="1.6"/>
<line x1="166.6" y1="879.3" x2="173.6" y2="879.3" stroke="#000" stroke-width="1.6"/>
<line x1="166.6" y1="858.9" x2="173.6" y2="858.9" stroke="#000" stroke-width="1.6"/>
<line x1="166.6" y1="838.6" x2="173.6" y2="838.6" stroke="#000" stroke-width="1.6"/>
<line x1="163.1" y1="818.3" x2="173.6" y2="818.3" stroke="#000" stroke-width="1.8"/>
<text class="se" x="142.3" y="1236.2" font-size="35.3" text-anchor="end">0</text>
<text class="se" x="142.3" y="1134.6" font-size="35.3" text-anchor="end">0.5</text>
<text class="se" x="142.3" y="1033" font-size="35.3" text-anchor="end">1</text>
<text class="se" x="142.3" y="931.3" font-size="35.3" text-anchor="end">1.5</text>
<text class="se" x="142.3" y="829.7" font-size="35.3" text-anchor="end">2</text>
<line x1="173.6" y1="1224.8" x2="173.6" y2="1235.6" stroke="#000" stroke-width="1.9"/>
<text class="se" x="173.6" y="1278" font-size="35.3" text-anchor="middle">0</text>
<line x1="283.9" y1="1224.8" x2="283.9" y2="1235.6" stroke="#000" stroke-width="1.9"/>
<text class="se" x="283.9" y="1278" font-size="35.3" text-anchor="middle">320</text>
<line x1="394.2" y1="1224.8" x2="394.2" y2="1235.6" stroke="#000" stroke-width="1.9"/>
<text class="se" x="394.2" y="1278" font-size="35.3" text-anchor="middle">640</text>
<line x1="504.5" y1="1224.8" x2="504.5" y2="1235.6" stroke="#000" stroke-width="1.9"/>
<text class="se" x="504.5" y="1278" font-size="35.3" text-anchor="middle">960</text>
<line x1="614.8" y1="1224.8" x2="614.8" y2="1235.6" stroke="#000" stroke-width="1.9"/>
<text class="se" x="614.8" y="1278" font-size="35.3" text-anchor="middle">1280</text>
<line x1="725.1" y1="1224.8" x2="725.1" y2="1235.6" stroke="#000" stroke-width="1.9"/>
<text class="se" x="725.1" y="1278" font-size="35.3" text-anchor="middle">1600</text>
<text class="se" transform="translate(58.2 1161.8) rotate(-90)" font-size="46.6" textLength="302.8" lengthAdjust="spacingAndGlyphs">Stiffness (N m<tspan font-size="28.9" dy="-16.8">-1</tspan><tspan dy="16.8">)</tspan></text>
<text class="se" x="408.5" y="1338.6" font-size="46.3" textLength="154" lengthAdjust="spacingAndGlyphs">Time (s)</text>
<polyline points="400,1223 420,1221.5 450,1219.5 452,1219 456,1219.6 460,1219.4 464,1219.5 468,1219 472,1219 476,1219 480,1219.5 484,1219.1 488,1218.9 492,1218.9 496,1218.8 500,1218.5 504,1218.5 508,1219.1 512,1218.6 516,1219.1 520,1218.5 524,1218.5 528,1218.7 532,1218.4 536,1218.5 540,1218.9 544,1218.9 548,1218.8 552,1218.6 556,1218.8 560,1218.8 564,1218.4 568,1218.5 572,1218 576,1218.5 580,1218.2 584,1218.4 588,1218.3 592,1218 596,1217.8 600,1218.1 604,1217 608,1213 613,1209.5 618,1207 630,1204.5 650,1202.5 680,1200 702,1198 740,1196.5 780,1194.5 810,1193 818,1192.7" fill="none" stroke="#9dc3e6" stroke-width="12.5" stroke-linejoin="round" stroke-linecap="round" stroke-opacity="0.92"/>
<circle cx="270.6" cy="1186.4" r="3.1" fill="#9dc3e6" fill-opacity="0.75" stroke="#8ab6dd" stroke-width="1.6"/>
<circle cx="376.6" cy="1188" r="3.1" fill="#9dc3e6" fill-opacity="0.75" stroke="#8ab6dd" stroke-width="1.6"/>
<circle cx="484" cy="1212" r="3.1" fill="#9dc3e6" fill-opacity="0.75" stroke="#8ab6dd" stroke-width="1.6"/>
<circle cx="527" cy="1214" r="3.1" fill="#9dc3e6" fill-opacity="0.75" stroke="#8ab6dd" stroke-width="1.6"/>
<circle cx="286" cy="1216" r="3.1" fill="#9dc3e6" fill-opacity="0.75" stroke="#8ab6dd" stroke-width="1.6"/>
<circle cx="820" cy="1200" r="3.1" fill="#9dc3e6" fill-opacity="0.75" stroke="#8ab6dd" stroke-width="1.6"/>
<circle cx="821" cy="1207" r="3.1" fill="#9dc3e6" fill-opacity="0.75" stroke="#8ab6dd" stroke-width="1.6"/>
<polygon points="173.6,1217.6 176.6,1217 179.6,1217.3 182.6,1217.2 185.6,1217.2 188.6,1217.5 191.6,1217.6 194.6,1217.1 197.6,1217.4 200.6,1217.2 203.6,1217.3 206.6,1217.2 209.6,1217.1 212.6,1217.1 215.6,1217.1 218.6,1217.6 221.6,1217.3 224.6,1217.1 227.6,1217.6 230.6,1217.6 233.6,1217.3 236.6,1217 239.6,1217.1 242.6,1217 245.6,1217.2 248.6,1217 251.6,1217.1 254.6,1217.1 257.6,1217.3 260.6,1217.6 263.6,1217.5 266.6,1217.2 269.6,1217.2 272.6,1217.3 275.6,1217.2 278.6,1217.2 281.6,1217 284.6,1217.1 287.6,1217.6 290.6,1217 293.6,1217.3 296.6,1217.4 299.6,1217.6 302.6,1217.1 305.6,1217.1 308.6,1217.1 311.6,1217.2 314.6,1217.3 317.6,1217.6 320.6,1217.5 323.6,1217.6 326.6,1217 329.6,1217 332.6,1217.4 335.6,1217.6 338.6,1217.3 341.6,1217.4 344.6,1217 347.6,1217.2 350.6,1217.6 353.6,1217.5 356.6,1217.5 359.6,1217.6 362.6,1217.1 365.6,1217 368.6,1217.1 371.6,1217.3 374.6,1217.4 377.6,1217.6 380.6,1217.5 383.6,1217.4 386.6,1217.5 389.6,1217.3 392.6,1217.3 395.6,1217 398.6,1217.5 401.6,1217.1 404.6,1217.6 407.6,1217.4 410.6,1217.2 413.6,1217 416.6,1217.1 419.6,1217.4 422.6,1217.4 425.6,1217 428.6,1217 431.6,1217.3 434.6,1217.4 437.6,1217.2 440.6,1217.1 443.6,1217.4 446.6,1217 449.6,1217.2 452.6,1217.3 455.6,1217.6 458.6,1217.4 461.6,1217.6 464.6,1217.3 467.6,1217.1 470.6,1217.1 473.6,1217.6 476.6,1217.4 479.6,1217.2 482.6,1217 485.6,1217.3 488.6,1217.4 491.6,1217.2 494.6,1217.1 497.6,1217.4 500.6,1217.6 503.6,1217.1 506.6,1217 509.6,1217.2 512.6,1217.2 515.6,1217.4 518.6,1217.1 521.6,1217.5 524.6,1217.5 527.6,1217.3 530.6,1217.1 533.6,1217.6 536.6,1217.2 539.6,1217.5 542.6,1217.1 545.6,1217.1 548.6,1217.5 551.6,1217.2 554.6,1217.6 557.6,1217.3 560.6,1217.1 563.6,1217.1 566.6,1217.2 569.6,1217.4 572.6,1217.6 575.6,1217.1 578.6,1217.2 581.6,1217.1 584.6,1217.6 587.6,1217 590.6,1217 593.6,1217 596.6,1217.2 599.6,1217.6 602.6,1217.6 605.6,1217.5 608.6,1217.6 611.6,1217.6 614.6,1217.2 617.6,1217.1 620.6,1217.6 623.6,1217.5 626.6,1217 629.6,1217.4 632.6,1217.2 635.6,1217.2 638.6,1217.2 641.6,1217.1 644.6,1217 647.6,1217.1 650.6,1217.2 653.6,1217.6 656.6,1217 659.6,1217.6 662.6,1217.1 665.6,1217.2 668.6,1217.5 671.6,1217.5 674.6,1217.3 677.6,1217 680.6,1217.3 683.6,1217.2 686.6,1217.6 689.6,1217.1 692.6,1217.2 695.6,1217.6 698.6,1217 701.6,1217.2 704.6,1217.5 707.6,1217.5 710.6,1217 711,1217.3 712,1214.6 740,1212.2 780,1209 817,1206 821,1209 821,1224 716,1224 711,1230 706,1230.3 704.6,1230 701.6,1230.6 698.6,1230.4 695.6,1230.6 692.6,1230.2 689.6,1230.6 686.6,1229.9 683.6,1230.3 680.6,1230.7 677.6,1230.7 674.6,1230 671.6,1230.1 668.6,1230.7 665.6,1230.5 662.6,1230.3 659.6,1230 656.6,1230.6 653.6,1230.3 650.6,1230.1 647.6,1230 644.6,1230.3 641.6,1230.2 638.6,1230.4 635.6,1230 632.6,1230.6 629.6,1230.4 626.6,1230.3 623.6,1229.9 620.6,1230 617.6,1230.3 614.6,1230.6 611.6,1230.2 608.6,1230.6 605.6,1230.2 602.6,1230.6 599.6,1229.9 596.6,1230.1 593.6,1230.5 590.6,1230.1 587.6,1230.2 584.6,1230.7 581.6,1230.6 578.6,1230.2 575.6,1230.2 572.6,1230.4 569.6,1230.1 566.6,1230.7 563.6,1230.1 560.6,1230.1 557.6,1230.2 554.6,1230.5 551.6,1230 548.6,1230 545.6,1230.4 542.6,1230.3 539.6,1230.2 536.6,1230 533.6,1230 530.6,1230.3 527.6,1230.5 524.6,1230.1 521.6,1230.1 518.6,1230 515.6,1230.4 512.6,1230.2 509.6,1229.9 506.6,1230.1 503.6,1230.4 500.6,1230.4 497.6,1230.1 494.6,1230.1 491.6,1230 488.6,1230.2 485.6,1230.1 482.6,1230.4 479.6,1230.4 476.6,1230 473.6,1230.7 470.6,1230.5 467.6,1230.1 464.6,1230.3 461.6,1230.6 458.6,1230.2 455.6,1230.6 452.6,1230.4 449.6,1230.7 446.6,1230.1 443.6,1230 440.6,1230.1 437.6,1229.9 434.6,1230.6 431.6,1230.6 428.6,1230.6 425.6,1230.3 422.6,1230 419.6,1230.7 416.6,1230.4 413.6,1230.5 410.6,1230.1 407.6,1230.3 404.6,1230.7 401.6,1230.2 398.6,1230.2 395.6,1230.4 392.6,1230.6 389.6,1230 386.6,1230.1 383.6,1230.1 380.6,1230.1 377.6,1230.5 374.6,1230.2 371.6,1230.4 368.6,1230.1 365.6,1230.6 362.6,1230 359.6,1230.4 356.6,1230.6 353.6,1230.5 350.6,1230.4 347.6,1230.4 344.6,1230.2 341.6,1230.1 338.6,1230.3 335.6,1230.5 332.6,1230.3 329.6,1230 326.6,1230 323.6,1230.1 320.6,1230.7 317.6,1230.6 314.6,1230.7 311.6,1230.2 308.6,1230.3 305.6,1229.9 302.6,1230 299.6,1230.1 296.6,1230.5 293.6,1230.1 290.6,1230 287.6,1230.5 284.6,1230.2 281.6,1230.2 278.6,1230.2 275.6,1230.4 272.6,1230.5 269.6,1230.6 266.6,1230.5 263.6,1230.5 260.6,1230 257.6,1230.6 254.6,1230.3 251.6,1230.2 248.6,1230.1 245.6,1230.2 242.6,1230.7 239.6,1230.7 236.6,1230.3 233.6,1230.1 230.6,1229.9 227.6,1230.7 224.6,1230.4 221.6,1230.6 218.6,1230.5 215.6,1229.9 212.6,1230.1 209.6,1230.2 206.6,1230.5 203.6,1230.1 200.6,1230.4 197.6,1230.7 194.6,1230.1 191.6,1230.2 188.6,1230.6 185.6,1230.5 182.6,1230.1 179.6,1230.6 176.6,1230 173.6,1229.9" fill="#404040"/>
<polygon points="481.7,1188.1 487.9,1181.9 494.1,1188.1 487.9,1194.3" fill="#404040"/>
<polygon points="699.4,1197.9 705.6,1191.7 711.8,1197.9 705.6,1204.1" fill="#404040"/>
<polygon points="699.4,1212 705.6,1205.8 711.8,1212 705.6,1218.2" fill="#404040"/>
<polygon points="810.2,1172.3 816.4,1166.1 822.6,1172.3 816.4,1178.5" fill="#404040"/>
<polygon points="814.5,1214.4 821,1207.9 827.5,1214.4 821,1220.9" fill="#404040"/>
<polygon points="267,1217.5 272.5,1212 278,1217.5 272.5,1223" fill="#404040"/>
<polygon points="575.8,1219.5 580.8,1214.5 585.8,1219.5 580.8,1224.5" fill="#404040"/>
<polygon points="590.7,1216.2 596.7,1210.2 602.7,1216.2 596.7,1222.2" fill="#404040"/>
<rect x="173.6" y="950" width="325.8" height="274.8" fill="#70ad47" fill-opacity="0.17"/>
<rect x="499.4" y="950" width="107.2" height="274.8" fill="#70ad47" fill-opacity="0.125"/>
<rect x="606.6" y="950" width="104.7" height="274.8" fill="#70ad47" fill-opacity="0.235"/>
<rect x="711.3" y="950" width="105.9" height="274.8" fill="#70ad47" fill-opacity="0.3"/>
<text class="sa" x="183.1" y="992.5" font-size="29" textLength="81.6" lengthAdjust="spacingAndGlyphs" fill="#0a0a0a">Water</text>
<text class="sa" x="312.3" y="995" font-size="29" textLength="42.1" lengthAdjust="spacingAndGlyphs" fill="#0a0a0a">0.1</text>
<text class="sa" x="312.3" y="1034.5" font-size="29" textLength="42.1" lengthAdjust="spacingAndGlyphs" fill="#0a0a0a">nM</text>
<text class="sa" x="416.5" y="998.2" font-size="29" textLength="16.9" lengthAdjust="spacingAndGlyphs" fill="#0a0a0a">1</text>
<text class="sa" x="416.5" y="1036.5" font-size="29" textLength="42.1" lengthAdjust="spacingAndGlyphs" fill="#0a0a0a">nM</text>
<text class="sa" x="526.8" y="991" font-size="29" textLength="33.7" lengthAdjust="spacingAndGlyphs" fill="#0a0a0a">10</text>
<text class="sa" x="526.8" y="1029.4" font-size="29" textLength="42.1" lengthAdjust="spacingAndGlyphs" fill="#0a0a0a">nM</text>
<text class="sa" x="630.8" y="992.8" font-size="29" textLength="50.6" lengthAdjust="spacingAndGlyphs" fill="#0a0a0a">100</text>
<text class="sa" x="630.8" y="1031.4" font-size="29" textLength="42.1" lengthAdjust="spacingAndGlyphs" fill="#0a0a0a">nM</text>
<text class="sa" x="738.1" y="980.3" font-size="29" textLength="16.9" lengthAdjust="spacingAndGlyphs" fill="#0a0a0a">1</text>
<text class="sa" x="739.1" y="1017.9" font-size="29" textLength="46.4" lengthAdjust="spacingAndGlyphs" fill="#0a0a0a">µM</text>
<line x1="172.6" y1="932.7" x2="172.6" y2="1223.7" stroke="#41719c" stroke-width="3"/>
<line x1="283.4" y1="950" x2="283.4" y2="1223.7" stroke="#41719c" stroke-width="3"/>
<line x1="388.6" y1="950" x2="388.6" y2="1223.7" stroke="#41719c" stroke-width="3"/>
<line x1="499.4" y1="950" x2="499.4" y2="1223.7" stroke="#41719c" stroke-width="3"/>
<line x1="606.6" y1="950" x2="606.6" y2="1223.7" stroke="#41719c" stroke-width="3"/>
<line x1="711.3" y1="950" x2="711.3" y2="1223.7" stroke="#41719c" stroke-width="3"/>
<line x1="817.2" y1="950" x2="817.2" y2="1223.7" stroke="#41719c" stroke-width="3"/>
<line x1="171.1" y1="1222.2" x2="818.7" y2="1222.2" stroke="#41719c" stroke-width="3"/>
<polygon points="170.5,1058.2 176.9,1058.2 176.9,1093.2 183,1093.2 173.7,1113.3 164.4,1093.2 170.5,1093.2" fill="#000"/>
<polygon points="282,1058.2 288.4,1058.2 288.4,1093.2 294.5,1093.2 285.2,1113.3 275.9,1093.2 282,1093.2" fill="#000"/>
<polygon points="387.3,1051.8 393.7,1051.8 393.7,1088.1 399.8,1088.1 390.5,1108.2 381.2,1088.1 387.3,1088.1" fill="#000"/>
<polygon points="499.9,1053 506.3,1053 506.3,1088.1 512.4,1088.1 503.1,1108.2 493.8,1088.1 499.9,1088.1" fill="#000"/>
<polygon points="604.5,1048.5 610.9,1048.5 610.9,1083.5 617,1083.5 607.7,1103.6 598.4,1083.5 604.5,1083.5" fill="#000"/>
<polygon points="711.3,1048.5 717.7,1048.5 717.7,1083.5 723.8,1083.5 714.5,1103.6 705.2,1083.5 711.3,1083.5" fill="#000"/>
<rect x="192" y="806.9" width="273" height="107.5" fill="#fff" stroke="#000" stroke-width="2"/>
<text class="se" x="237.4" y="845.4" font-size="34.5" textLength="76.8" lengthAdjust="spacingAndGlyphs">DNA</text>
<text class="se" x="237.4" y="898.3" font-size="34.5" textLength="211" lengthAdjust="spacingAndGlyphs">Bare Tweezers</text>
<circle cx="220.3" cy="834" r="3.1" fill="#bdd7ee" stroke="#9dc3e6" stroke-width="1.6"/>
<polygon points="214,887.6 220.3,881.3 226.6,887.6 220.3,893.9" fill="#404040"/>
<line x1="984.7" y1="798.7" x2="984.7" y2="1219.7" stroke="#000" stroke-width="2"/>
<line x1="974.7" y1="1218.9" x2="1629" y2="1218.9" stroke="#000" stroke-width="2"/>
<line x1="974.2" y1="1218.9" x2="984.7" y2="1218.9" stroke="#000" stroke-width="1.8"/>
<line x1="977.7" y1="1197.9" x2="984.7" y2="1197.9" stroke="#000" stroke-width="1.6"/>
<line x1="977.7" y1="1177" x2="984.7" y2="1177" stroke="#000" stroke-width="1.6"/>
<line x1="977.7" y1="1156" x2="984.7" y2="1156" stroke="#000" stroke-width="1.6"/>
<line x1="977.7" y1="1135" x2="984.7" y2="1135" stroke="#000" stroke-width="1.6"/>
<line x1="974.2" y1="1114.1" x2="984.7" y2="1114.1" stroke="#000" stroke-width="1.8"/>
<line x1="977.7" y1="1093.1" x2="984.7" y2="1093.1" stroke="#000" stroke-width="1.6"/>
<line x1="977.7" y1="1072.1" x2="984.7" y2="1072.1" stroke="#000" stroke-width="1.6"/>
<line x1="977.7" y1="1051.1" x2="984.7" y2="1051.1" stroke="#000" stroke-width="1.6"/>
<line x1="977.7" y1="1030.2" x2="984.7" y2="1030.2" stroke="#000" stroke-width="1.6"/>
<line x1="974.2" y1="1009.2" x2="984.7" y2="1009.2" stroke="#000" stroke-width="1.8"/>
<line x1="977.7" y1="988.2" x2="984.7" y2="988.2" stroke="#000" stroke-width="1.6"/>
<line x1="977.7" y1="967.3" x2="984.7" y2="967.3" stroke="#000" stroke-width="1.6"/>
<line x1="977.7" y1="946.3" x2="984.7" y2="946.3" stroke="#000" stroke-width="1.6"/>
<line x1="977.7" y1="925.3" x2="984.7" y2="925.3" stroke="#000" stroke-width="1.6"/>
<line x1="974.2" y1="904.4" x2="984.7" y2="904.4" stroke="#000" stroke-width="1.8"/>
<line x1="977.7" y1="883.4" x2="984.7" y2="883.4" stroke="#000" stroke-width="1.6"/>
<line x1="977.7" y1="862.4" x2="984.7" y2="862.4" stroke="#000" stroke-width="1.6"/>
<line x1="977.7" y1="841.4" x2="984.7" y2="841.4" stroke="#000" stroke-width="1.6"/>
<line x1="977.7" y1="820.5" x2="984.7" y2="820.5" stroke="#000" stroke-width="1.6"/>
<line x1="974.2" y1="799.5" x2="984.7" y2="799.5" stroke="#000" stroke-width="1.8"/>
<text class="se" x="954.3" y="1230.3" font-size="35.3" text-anchor="end">0</text>
<text class="se" x="954.3" y="1125.5" font-size="35.3" text-anchor="end">0.5</text>
<text class="se" x="954.3" y="1020.6" font-size="35.3" text-anchor="end">1</text>
<text class="se" x="954.3" y="915.8" font-size="35.3" text-anchor="end">1.5</text>
<text class="se" x="954.3" y="810.9" font-size="35.3" text-anchor="end">2</text>
<line x1="984.7" y1="1218.9" x2="984.7" y2="1229.7" stroke="#000" stroke-width="1.9"/>
<text class="se" x="984.7" y="1270.9" font-size="35.3" text-anchor="middle">0</text>
<line x1="1094.7" y1="1218.9" x2="1094.7" y2="1229.7" stroke="#000" stroke-width="1.9"/>
<text class="se" x="1094.7" y="1270.9" font-size="35.3" text-anchor="middle">320</text>
<line x1="1204.7" y1="1218.9" x2="1204.7" y2="1229.7" stroke="#000" stroke-width="1.9"/>
<text class="se" x="1204.7" y="1270.9" font-size="35.3" text-anchor="middle">640</text>
<line x1="1314.7" y1="1218.9" x2="1314.7" y2="1229.7" stroke="#000" stroke-width="1.9"/>
<text class="se" x="1314.7" y="1270.9" font-size="35.3" text-anchor="middle">960</text>
<line x1="1424.7" y1="1218.9" x2="1424.7" y2="1229.7" stroke="#000" stroke-width="1.9"/>
<text class="se" x="1424.7" y="1270.9" font-size="35.3" text-anchor="middle">1280</text>
<line x1="1534.7" y1="1218.9" x2="1534.7" y2="1229.7" stroke="#000" stroke-width="1.9"/>
<text class="se" x="1534.7" y="1270.9" font-size="35.3" text-anchor="middle">1600</text>
<text class="se" transform="translate(889.4 1129.2) rotate(-90)" font-size="46.6" textLength="301.8" lengthAdjust="spacingAndGlyphs">Stiffness (N m<tspan font-size="28.9" dy="-16.8">-1</tspan><tspan dy="16.8">)</tspan></text>
<polyline points="1314.4,1211 1315.4,1207.1 1315.7,1204 1316.8,1199.7 1316.6,1196.2 1317.3,1192.4 1317.3,1188.5 1318.2,1185.4 1317.9,1181.1 1318.8,1176.6 1319.2,1172.7 1319.3,1169 1319.6,1164.8 1319.6,1161.5 1319.9,1158 1320.1,1154.2 1319.9,1150.8 1320.6,1146.9 1321,1143.8 1321,1139.7 1321.2,1136.1 1321.2,1132.9 1321.4,1129.4 1322,1125.6 1322.4,1122.1 1322.7,1119.2 1322.8,1115.1 1323,1111.9 1323.7,1107.9 1323.8,1104.9 1324,1101 1323.7,1097.4 1324.2,1093.7 1324.9,1089.2 1325,1086.1 1324.6,1081.9 1325.4,1078 1325.7,1074.5 1325.8,1070.7 1325.7,1067.7 1325.6,1063.5 1326.1,1059.8 1325.8,1056 1326.1,1053.1 1326.8,1049.4 1326.4,1053 1326.5,1056.5 1327.2,1060 1327.5,1063.9 1327.4,1067.9 1327.1,1071.7 1327.7,1074.9 1327.9,1078.3 1328.2,1082.1 1327.7,1085.7 1327.8,1088.7 1328.1,1092.1 1328.2,1095.8 1328.1,1099.9 1328.2,1103.1 1328,1106.1 1327.8,1109.7 1328.4,1113.5 1328.4,1117.6 1328.1,1120.6 1328.7,1124 1328.2,1127.9 1328.3,1131.5 1328.5,1135.3 1328.9,1138.5 1329.1,1142.4 1328.7,1146.4 1328.9,1149.3 1328.8,1153.3 1330,1157.7 1330,1161.5 1330.1,1166.1 1332.3,1168.4 1335.1,1167.4 1339,1164.9 1340.5,1162.2 1342.5,1158.9 1344.9,1155.8 1346.5,1153 1348.4,1149.5 1351.2,1145.9 1352.4,1143.1 1354.3,1139.9 1356.2,1136.3 1357.3,1133.2 1358.7,1130.6 1360.9,1127.2 1361.8,1124.1 1364.1,1120.6 1365.7,1117.4 1366.8,1113.9 1368.4,1110.6 1370.1,1108.1 1372,1105 1373.6,1101.3 1375.1,1098.2 1376.9,1095.1 1378,1092 1380.3,1088.4 1381.9,1085 1383.1,1082 1385.2,1079.4 1386.9,1075.6 1388.7,1072.3 1389.9,1069.6 1391.9,1066.2 1393.6,1063.2 1395.2,1059.9 1397.1,1056.7 1398.5,1053.3 1400.4,1049.7 1401.7,1046.7 1403.3,1043.8 1405,1039.6 1406.5,1037.1 1408.3,1033 1409.6,1029.6 1411.9,1026 1413.6,1021.9 1413.9,1025.2 1415,1028.9 1416.3,1032.4 1416,1035.9 1417.2,1039.6 1416.8,1042.5 1417.3,1046 1418.3,1050.3 1418.9,1054.3 1419.6,1057.8 1419.4,1054 1420.2,1050.5 1420,1047.1 1419.9,1043.4 1420.4,1040.2 1423.7,1038.3 1427.4,1037 1430.9,1036 1433.8,1034.6 1439.9,1031.2 1443.3,1028.8 1446.8,1026 1450.5,1023 1453.9,1020.1 1456.6,1017.2 1459.9,1015.4 1462,1012.4 1465.1,1010.2 1467.5,1007.4 1470.2,1004.5 1472.7,1001.3 1475.3,997.5 1478.2,994.5 1479.8,991.8 1481.9,989 1484.7,986.2 1486.8,982.9 1488.7,980.1 1491.7,976.3 1494.2,972.7 1496.2,969.3 1499.4,966 1501,963.3 1503,959.9 1505.4,957.1 1507.8,954 1509.6,950.6 1511,947.2 1513,943.2 1514.1,939 1516.2,935.2 1517.2,931.8 1519.5,928.3 1520.4,925.1 1522.5,922.3 1522.4,926 1522.9,930.5 1523.5,934.7 1523.7,938.5 1524.7,942.7 1524.3,946.7 1524.6,949.9 1527,954.1 1528.3,957.6 1529.4,961.6 1532.6,956.7 1536.9,955.1 1540.4,957.3 1544.2,958.5 1548,959.4 1551.4,960.4 1557.9,959.7 1564.7,957.4 1567.6,956.1 1570.7,953.9 1574.2,952.8 1577.3,950.7 1580.4,948.7 1583.2,946.6 1586.6,944 1590,941.1 1594.3,938.7 1597.5,935.4 1600.7,932.7 1604.2,929.7 1607.6,927 1610.4,923.6 1614.3,920.2 1617,917.6 1619.6,914.1 1622.7,911.3 1627,907.9 1629.9,904.8" fill="none" stroke="#a9d18e" stroke-width="7.2" stroke-linejoin="round" stroke-linecap="round"/>
<polyline points="1326.6,1049 1326.6,1075" fill="none" stroke="#a9d18e" stroke-width="6.5" stroke-linejoin="round" stroke-linecap="round"/>
<polyline points="1419.8,1040 1419.8,1060" fill="none" stroke="#a9d18e" stroke-width="6.5" stroke-linejoin="round" stroke-linecap="round"/>
<polyline points="1522.8,921 1522.8,940" fill="none" stroke="#a9d18e" stroke-width="6.5" stroke-linejoin="round" stroke-linecap="round"/>
<polyline points="1628,903 1628,915" fill="none" stroke="#a9d18e" stroke-width="7" stroke-linejoin="round" stroke-linecap="round"/>
<polygon points="984.7,1211.6 987.7,1211.7 990.7,1211.6 993.7,1211.7 996.7,1211.8 999.7,1211.6 1002.7,1211.5 1005.7,1211.9 1008.7,1211.4 1011.7,1211.7 1014.7,1211.5 1017.7,1211.8 1020.7,1211.4 1023.7,1211.9 1026.7,1211.5 1029.7,1211.3 1032.7,1211.5 1035.7,1211.5 1038.7,1211.3 1041.7,1211.6 1044.7,1211.6 1047.7,1211.7 1050.7,1211.5 1053.7,1211.5 1056.7,1211.4 1059.7,1211.7 1062.7,1211.9 1065.7,1211.6 1068.7,1211.4 1071.7,1211.8 1074.7,1211.5 1077.7,1211.4 1080.7,1211.4 1083.7,1211.8 1086.7,1211.8 1089.7,1211.7 1092.7,1211.6 1095.7,1211.6 1098.7,1211.4 1101.7,1211.9 1104.7,1211.5 1107.7,1211.7 1110.7,1211.8 1113.7,1211.8 1116.7,1211.6 1119.7,1211.5 1122.7,1211.6 1125.7,1211.4 1128.7,1211.8 1131.7,1211.5 1134.7,1211.8 1137.7,1211.5 1140.7,1211.5 1143.7,1211.5 1146.7,1211.6 1149.7,1211.4 1152.7,1211.3 1155.7,1211.7 1158.7,1211.5 1161.7,1211.4 1164.7,1211.5 1167.7,1211.6 1170.7,1211.6 1173.7,1211.7 1176.7,1211.7 1179.7,1211.5 1182.7,1211.9 1185.7,1211.8 1188.7,1211.3 1191.7,1211.8 1194.7,1211.8 1197.7,1211.8 1200.7,1211.4 1203.7,1211.8 1206.7,1211.7 1209.7,1211.3 1212.7,1211.3 1215.7,1211.9 1218.7,1211.7 1221.7,1211.5 1224.7,1211.4 1227.7,1211.4 1230.7,1211.4 1233.7,1211.8 1236.7,1211.5 1239.7,1211.4 1242.7,1211.8 1245.7,1211.8 1248.7,1211.4 1251.7,1211.8 1254.7,1211.7 1257.7,1211.8 1260.7,1211.7 1263.7,1211.8 1266.7,1211.8 1269.7,1211.8 1272.7,1211.4 1275.7,1211.7 1278.7,1211.6 1281.7,1211.7 1284.7,1211.6 1287.7,1211.8 1290.7,1211.6 1293.7,1211.5 1296.7,1211.4 1299.7,1211.4 1302.7,1211.6 1305.7,1211.3 1308.7,1211.6 1311.7,1211.4 1314.7,1211.6 1317.7,1211.6 1320.7,1211.6 1323.7,1211.8 1326.7,1211.3 1329.7,1211.8 1332.7,1211.6 1335.7,1211.6 1338.7,1211.7 1341.7,1211.8 1344.7,1211.5 1347.7,1211.6 1350.7,1211.9 1353.7,1211.3 1356.7,1211.7 1359.7,1211.7 1362.7,1211.3 1365.7,1211.7 1368.7,1211.7 1371.7,1211.9 1374.7,1211.5 1377.7,1211.9 1380.7,1211.6 1383.7,1211.6 1386.7,1211.8 1389.7,1211.3 1392.7,1211.7 1395.7,1211.7 1398.7,1211.5 1401.7,1211.8 1404.7,1211.5 1407.7,1211.6 1410.7,1211.6 1413.7,1211.8 1416.7,1211.4 1418,1211.6 1419,1211.5 1422,1211.5 1425,1211.5 1428,1211.6 1431,1211.2 1434,1211.5 1437,1211.1 1440,1211.1 1443,1210.9 1446,1211 1449,1211.2 1452,1211 1455,1211 1458,1210.7 1461,1210.6 1464,1210.5 1467,1210.6 1470,1210.6 1473,1210.6 1476,1210.1 1479,1210.5 1482,1210.5 1485,1210.2 1488,1209.9 1491,1209.9 1494,1209.7 1497,1209.8 1500,1210.1 1503,1209.9 1506,1209.8 1509,1209.9 1512,1209.9 1515,1209.6 1518,1209.5 1540,1208.8 1570,1207.6 1600,1206.8 1620,1204.2 1630,1203 1636,1209 1630,1218 1600,1221 1560,1223 1518,1224 1510,1223.8 1509.7,1223.7 1506.7,1223.9 1503.7,1223.6 1500.7,1224 1497.7,1223.9 1494.7,1223.6 1491.7,1223.7 1488.7,1224.1 1485.7,1223.5 1482.7,1223.6 1479.7,1223.8 1476.7,1223.7 1473.7,1223.8 1470.7,1223.7 1467.7,1223.9 1464.7,1223.6 1461.7,1223.6 1458.7,1223.6 1455.7,1223.9 1452.7,1223.8 1449.7,1223.8 1446.7,1224 1443.7,1224 1440.7,1223.8 1437.7,1223.6 1434.7,1224 1431.7,1224 1428.7,1223.6 1425.7,1223.8 1422.7,1224 1419.7,1224 1416.7,1223.7 1413.7,1223.6 1410.7,1223.8 1407.7,1223.9 1404.7,1223.9 1401.7,1223.6 1398.7,1224.1 1395.7,1224 1392.7,1223.6 1389.7,1224 1386.7,1223.8 1383.7,1223.6 1380.7,1223.7 1377.7,1224 1374.7,1223.9 1371.7,1224 1368.7,1224 1365.7,1223.7 1362.7,1223.8 1359.7,1224 1356.7,1224 1353.7,1224 1350.7,1223.5 1347.7,1224 1344.7,1224 1341.7,1223.9 1338.7,1223.8 1335.7,1223.7 1332.7,1223.5 1329.7,1223.7 1326.7,1224 1323.7,1224 1320.7,1223.9 1317.7,1223.9 1314.7,1223.7 1311.7,1224 1308.7,1223.8 1305.7,1223.7 1302.7,1223.9 1299.7,1224 1296.7,1224.1 1293.7,1223.9 1290.7,1223.7 1287.7,1224 1284.7,1223.9 1281.7,1224.1 1278.7,1223.5 1275.7,1223.7 1272.7,1223.8 1269.7,1224 1266.7,1224.1 1263.7,1224 1260.7,1223.7 1257.7,1223.8 1254.7,1223.9 1251.7,1223.9 1248.7,1223.7 1245.7,1224 1242.7,1223.6 1239.7,1223.9 1236.7,1223.8 1233.7,1223.8 1230.7,1223.7 1227.7,1223.5 1224.7,1223.8 1221.7,1224 1218.7,1223.6 1215.7,1223.9 1212.7,1223.7 1209.7,1223.5 1206.7,1224 1203.7,1223.9 1200.7,1223.5 1197.7,1223.5 1194.7,1223.9 1191.7,1224.1 1188.7,1223.7 1185.7,1224.1 1182.7,1223.8 1179.7,1223.9 1176.7,1223.9 1173.7,1223.6 1170.7,1223.9 1167.7,1224 1164.7,1223.9 1161.7,1224 1158.7,1223.5 1155.7,1223.6 1152.7,1223.9 1149.7,1223.6 1146.7,1223.9 1143.7,1223.5 1140.7,1223.6 1137.7,1224 1134.7,1223.6 1131.7,1224.1 1128.7,1223.6 1125.7,1223.9 1122.7,1223.5 1119.7,1223.5 1116.7,1223.6 1113.7,1223.6 1110.7,1223.9 1107.7,1223.6 1104.7,1223.7 1101.7,1223.8 1098.7,1224.1 1095.7,1224.1 1092.7,1223.9 1089.7,1223.7 1086.7,1223.5 1083.7,1223.8 1080.7,1224.1 1077.7,1223.8 1074.7,1224 1071.7,1223.6 1068.7,1223.5 1065.7,1223.8 1062.7,1223.5 1059.7,1224.1 1056.7,1223.9 1053.7,1223.8 1050.7,1223.7 1047.7,1223.8 1044.7,1223.7 1041.7,1223.7 1038.7,1223.8 1035.7,1224 1032.7,1224 1029.7,1223.7 1026.7,1223.9 1023.7,1224 1020.7,1224 1017.7,1223.5 1014.7,1223.6 1011.7,1223.6 1008.7,1224 1005.7,1223.8 1002.7,1223.9 999.7,1223.6 996.7,1223.9 993.7,1223.9 990.7,1223.9 987.7,1223.9 984.7,1223.9" fill="#404040"/>
<polygon points="1078,1106 1084.2,1099.8 1090.4,1106 1084.2,1112.2" fill="#404040"/>
<polygon points="1078,1137.9 1084.2,1131.7 1090.4,1137.9 1084.2,1144.1" fill="#404040"/>
<polygon points="1078,1163.9 1084.2,1157.7 1090.4,1163.9 1084.2,1170.1" fill="#404040"/>
<polygon points="1079.8,1211 1086,1204.8 1092.2,1211 1086,1217.2" fill="#404040"/>
<polygon points="1294.1,1211.9 1300.3,1205.7 1306.5,1211.9 1300.3,1218.1" fill="#404040"/>
<polygon points="1402.6,1211.5 1408.8,1205.3 1415,1211.5 1408.8,1217.7" fill="#404040"/>
<polygon points="1511.1,1139.6 1517.3,1133.4 1523.5,1139.6 1517.3,1145.8" fill="#404040"/>
<polygon points="1624.8,1210 1631,1203.8 1637.2,1210 1631,1216.2" fill="#404040"/>
<rect x="984.7" y="947.5" width="336" height="271.4" fill="#70ad47" fill-opacity="0.17"/>
<rect x="1320.7" y="899.5" width="97.3" height="319.4" fill="#70ad47" fill-opacity="0.09"/>
<rect x="1418" y="855.3" width="100" height="363.6" fill="#e6f1e0" fill-opacity="0.36"/>
<rect x="1518" y="804.3" width="111" height="414.6" fill="#e8f2e3" fill-opacity="0.18"/>
<text class="sa" x="997.5" y="1005.1" font-size="29" textLength="81.6" lengthAdjust="spacingAndGlyphs" fill="#0a0a0a">Water</text>
<text class="sa" x="1111.1" y="1006.9" font-size="29" textLength="59" lengthAdjust="spacingAndGlyphs" fill="#0a0a0a">0.01</text>
<text class="sa" x="1111.1" y="1046" font-size="29" textLength="42.1" lengthAdjust="spacingAndGlyphs" fill="#0a0a0a">nM</text>
<text class="sa" x="1225.1" y="1008.5" font-size="29" textLength="42.1" lengthAdjust="spacingAndGlyphs" fill="#0a0a0a">0.1</text>
<text class="sa" x="1225.1" y="1047.3" font-size="29" textLength="42.1" lengthAdjust="spacingAndGlyphs" fill="#0a0a0a">nM</text>
<text class="sa" x="1352.8" y="929.3" font-size="29" textLength="16.9" lengthAdjust="spacingAndGlyphs" fill="#0a0a0a">1</text>
<text class="sa" x="1352.8" y="968.4" font-size="29" textLength="42.1" lengthAdjust="spacingAndGlyphs" fill="#0a0a0a">nM</text>
<text class="sa" x="1443.8" y="880.8" font-size="29" textLength="33.7" lengthAdjust="spacingAndGlyphs" fill="#0a0a0a">10</text>
<text class="sa" x="1443.8" y="919.6" font-size="29" textLength="42.1" lengthAdjust="spacingAndGlyphs" fill="#0a0a0a">nM</text>
<text class="sa" x="1550.1" y="833.6" font-size="29" textLength="50.6" lengthAdjust="spacingAndGlyphs" fill="#0a0a0a">100</text>
<text class="sa" x="1550.1" y="872.4" font-size="29" textLength="42.1" lengthAdjust="spacingAndGlyphs" fill="#0a0a0a">nM</text>
<line x1="983.7" y1="928.9" x2="983.7" y2="1219.4" stroke="#41719c" stroke-width="3"/>
<line x1="1095.2" y1="947.5" x2="1095.2" y2="1219.4" stroke="#41719c" stroke-width="3"/>
<line x1="1208" y1="947.5" x2="1208" y2="1219.4" stroke="#41719c" stroke-width="3"/>
<line x1="1320.7" y1="899.5" x2="1320.7" y2="1219.4" stroke="#41719c" stroke-width="3"/>
<line x1="1417" y1="899.5" x2="1417" y2="1219.4" stroke="#41719c" stroke-width="3"/>
<line x1="1518" y1="855.3" x2="1518" y2="1219.4" stroke="#41719c" stroke-width="3"/>
<line x1="1628.9" y1="802.5" x2="1628.9" y2="1219.4" stroke="#41719c" stroke-width="3"/>
<line x1="982.2" y1="1217.9" x2="1630.4" y2="1217.9" stroke="#41719c" stroke-width="3"/>
<line x1="1518.3" y1="804.3" x2="1518.3" y2="856" stroke="#41719c" stroke-width="1"/>
<polygon points="997.4,1075.3 1003.8,1075.3 1003.8,1111.1 1009.9,1111.1 1000.6,1131.2 991.3,1111.1 997.4,1111.1" fill="#000"/>
<polygon points="1093.2,1072 1099.6,1072 1099.6,1107.3 1105.7,1107.3 1096.4,1127.4 1087.1,1107.3 1093.2,1107.3" fill="#000"/>
<polygon points="1205,1065.6 1211.4,1065.6 1211.4,1100.9 1217.5,1100.9 1208.2,1121 1198.9,1100.9 1205,1100.9" fill="#000"/>
<polygon points="1314.4,1001.6 1320.8,1001.6 1320.8,1036.6 1326.9,1036.6 1317.6,1056.7 1308.3,1036.6 1314.4,1036.6" fill="#000"/>
<polygon points="1417,962.5 1423.4,962.5 1423.4,997.8 1429.5,997.8 1420.2,1017.9 1410.9,997.8 1417,997.8" fill="#000"/>
<polygon points="1517.3,902 1523.7,902 1523.7,937.1 1529.8,937.1 1520.5,957.2 1511.2,937.1 1517.3,937.1" fill="#000"/>
<rect x="993.6" y="792.8" width="273.5" height="114.2" fill="#fff" stroke="#000" stroke-width="2"/>
<text class="se" x="1039.6" y="832.7" font-size="34.5" textLength="76.8" lengthAdjust="spacingAndGlyphs">DNA</text>
<text class="se" x="1039.6" y="889.9" font-size="34.5" textLength="211" lengthAdjust="spacingAndGlyphs">Bare Tweezers</text>
<circle cx="1021.7" cy="821.7" r="3" fill="#a9d18e"/>
<polygon points="1015.4,879.1 1021.7,872.8 1028,879.1 1021.7,885.4" fill="#404040"/>
<rect x="312.7" y="1500.9" width="251.1" height="312.1" fill="#70ad47" fill-opacity="0.17"/>
<rect x="563.8" y="1500.9" width="250.2" height="312.1" fill="#70ad47" fill-opacity="0.17"/>
<rect x="814" y="1500.9" width="250.3" height="312.1" fill="#70ad47" fill-opacity="0.235"/>
<rect x="1064.3" y="1500.9" width="246.1" height="312.1" fill="#e8f2e3" fill-opacity="0.18"/>
<line x1="312.7" y1="1708.6" x2="1317.2" y2="1708.6" stroke="#8c9688" stroke-width="1.4" stroke-opacity="0.42"/>
<line x1="312.7" y1="1604.2" x2="1317.2" y2="1604.2" stroke="#8c9688" stroke-width="1.4" stroke-opacity="0.42"/>
<line x1="1310" y1="1499.8" x2="1317.2" y2="1499.8" stroke="#8c9688" stroke-width="1.4" stroke-opacity="0.42"/>
<rect x="399.3" y="1801.4" width="78.3" height="11.6" fill="#de8a38"/>
<rect x="650" y="1803.2" width="79" height="9.8" fill="#ae9410"/>
<rect x="901.5" y="1759.6" width="78.3" height="53.4" fill="#95bdc2"/>
<rect x="1152" y="1575.4" width="78.7" height="237.6" fill="#b3d69b"/>
<line x1="438.5" y1="1787.5" x2="438.5" y2="1813" stroke="#626b5c" stroke-width="2"/>
<line x1="431.5" y1="1787.5" x2="445.5" y2="1787.5" stroke="#626b5c" stroke-width="2"/>
<line x1="689.8" y1="1794.3" x2="689.8" y2="1813" stroke="#626b5c" stroke-width="2"/>
<line x1="682.8" y1="1794.3" x2="696.8" y2="1794.3" stroke="#626b5c" stroke-width="2"/>
<line x1="941" y1="1732.3" x2="941" y2="1787.1" stroke="#626b5c" stroke-width="2"/>
<line x1="934" y1="1732.3" x2="948" y2="1732.3" stroke="#626b5c" stroke-width="2"/>
<line x1="934" y1="1787.1" x2="948" y2="1787.1" stroke="#626b5c" stroke-width="2"/>
<line x1="1191.6" y1="1511" x2="1191.6" y2="1639.7" stroke="#737373" stroke-width="2"/>
<line x1="1184.6" y1="1511" x2="1198.6" y2="1511" stroke="#737373" stroke-width="2"/>
<line x1="1184.6" y1="1639.7" x2="1198.6" y2="1639.7" stroke="#737373" stroke-width="2"/>
<line x1="312.7" y1="1813" x2="1316.5" y2="1813" stroke="#000" stroke-width="1.8"/>
<line x1="313.2" y1="1813" x2="313.2" y2="1822.5" stroke="#000" stroke-width="1.8"/>
<line x1="563.8" y1="1813" x2="563.8" y2="1822.5" stroke="#000" stroke-width="1.8"/>
<line x1="814" y1="1813" x2="814" y2="1822.5" stroke="#000" stroke-width="1.8"/>
<line x1="1064.3" y1="1813" x2="1064.3" y2="1822.5" stroke="#000" stroke-width="1.8"/>
<line x1="1316.5" y1="1813" x2="1316.5" y2="1822.5" stroke="#000" stroke-width="1.8"/>
<line x1="301.7" y1="1813" x2="312.7" y2="1813" stroke="#000" stroke-width="1.8"/>
<text class="se" x="281.2" y="1824.4" font-size="35.3" text-anchor="end" textLength="16.5" lengthAdjust="spacingAndGlyphs">0</text>
<line x1="301.7" y1="1708.6" x2="312.7" y2="1708.6" stroke="#000" stroke-width="1.8"/>
<text class="se" x="281.2" y="1720" font-size="35.3" text-anchor="end" textLength="41.3" lengthAdjust="spacingAndGlyphs">0.5</text>
<line x1="301.7" y1="1604.2" x2="312.7" y2="1604.2" stroke="#000" stroke-width="1.8"/>
<text class="se" x="281.2" y="1615.6" font-size="35.3" text-anchor="end" textLength="16.5" lengthAdjust="spacingAndGlyphs">1</text>
<line x1="301.7" y1="1499.8" x2="312.7" y2="1499.8" stroke="#000" stroke-width="1.8"/>
<text class="se" x="281.2" y="1511.2" font-size="35.3" text-anchor="end" textLength="41.3" lengthAdjust="spacingAndGlyphs">1.5</text>
<rect x="312.7" y="1500.9" width="997.7" height="311.3" fill="none" stroke="#41719c" stroke-width="3.4"/>
<line x1="563.8" y1="1500.9" x2="563.8" y2="1813" stroke="#41719c" stroke-width="3.2"/>
<line x1="814" y1="1500.9" x2="814" y2="1813" stroke="#41719c" stroke-width="3.2"/>
<line x1="1064.3" y1="1500.9" x2="1064.3" y2="1813" stroke="#41719c" stroke-width="3.2"/>
<text class="se" x="438.5" y="1866" font-size="35.3" text-anchor="middle">H2A</text>
<text class="se" x="688.8" y="1866" font-size="35.3" text-anchor="middle">H3</text>
<text class="se" x="940.7" y="1866" font-size="35.3" text-anchor="middle">H3H4</text>
<text class="se" x="1191.7" y="1866" font-size="35.3" text-anchor="middle">Nucleosome</text>
<text class="se" transform="translate(203.8 1798.1) rotate(-90)" font-size="46.6" textLength="302.7" lengthAdjust="spacingAndGlyphs">Stiffness (N m<tspan font-size="28.9" dy="-16.8">-1</tspan><tspan dy="16.8">)</tspan></text>
<rect x="1417.9" y="1514" width="201.1" height="298.1" fill="#fff" stroke="#000" stroke-width="3.2"/>
<text class="se" x="1431.3" y="1558" font-size="37" textLength="157" lengthAdjust="spacingAndGlyphs">pH colour</text>
<text class="se" x="1478.3" y="1604.3" font-size="37" textLength="73" lengthAdjust="spacingAndGlyphs">code</text>
<rect x="1449.3" y="1646.1" width="42.8" height="40.7" fill="#70ad47" fill-opacity="0.3"/>
<rect x="1449.3" y="1686.8" width="42.8" height="40.7" fill="#70ad47" fill-opacity="0.16"/>
<rect x="1449.3" y="1727.5" width="42.8" height="41.2" fill="#e8f2e3" fill-opacity="0.18"/>
<rect x="1449.3" y="1646.1" width="42.8" height="122.6" fill="none" stroke="#41719c" stroke-width="2.9"/>
<line x1="1449.3" y1="1686.8" x2="1492.1" y2="1686.8" stroke="#41719c" stroke-width="2.9"/>
<line x1="1449.3" y1="1727.5" x2="1492.1" y2="1727.5" stroke="#41719c" stroke-width="2.9"/>
<text class="se" x="1504.5" y="1675.9" font-size="37.5">6.6</text>
<text class="se" x="1508.4" y="1720.9" font-size="37.5">6.1</text>
<text class="se" x="1507" y="1765.1" font-size="37.5">5.6</text>
</svg>
</body>
</html>
